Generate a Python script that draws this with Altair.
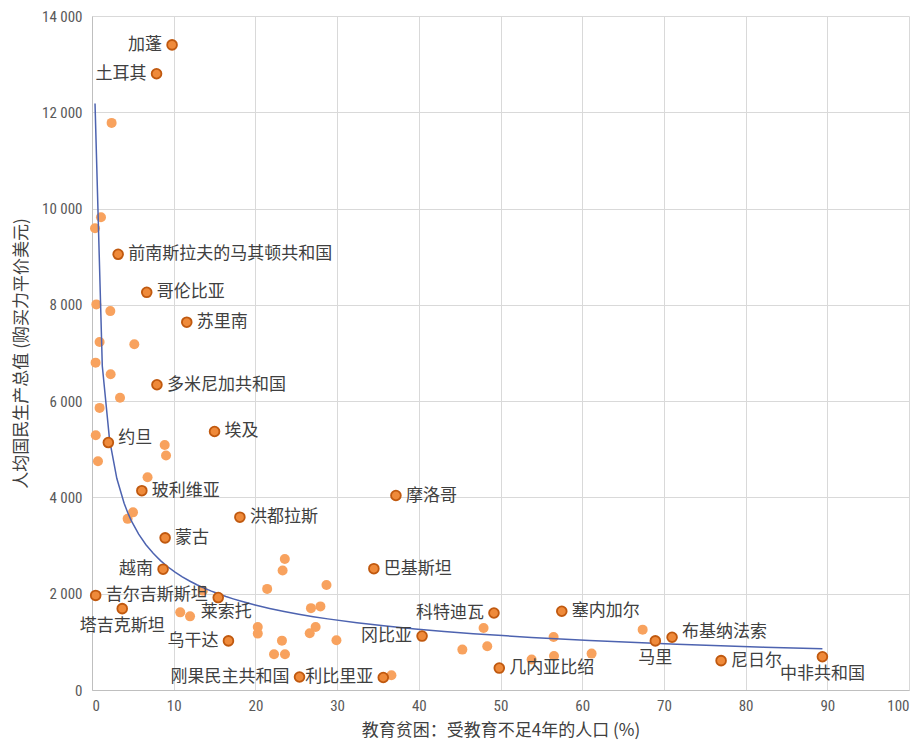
import altair as alt
import pandas as pd

# ---- data ----
labeled_names = [
    "加蓬", "土耳其", "前南斯拉夫的马其顿共和国", "哥伦比亚", "苏里南", "多米尼加共和国",
    "埃及", "约旦", "玻利维亚", "洪都拉斯", "蒙古", "越南", "吉尔吉斯斯坦", "塔吉克斯坦",
    "莱索托", "乌干达", "刚果民主共和国", "利比里亚", "摩洛哥", "巴基斯坦", "科特迪瓦",
    "塞内加尔", "冈比亚", "几内亚比绍", "马里", "布基纳法索", "尼日尔", "中非共和国",
]
labeled_x = [
    9.8, 7.9, 3.2, 6.7, 11.6, 7.95,
    15.0, 2.0, 6.1, 18.1, 8.95, 8.7, 0.45, 3.7,
    15.45, 16.7, 25.4, 35.65, 37.2, 34.5, 49.2,
    57.5, 40.4, 49.85, 68.95, 71.0, 77.0, 89.4,
]
labeled_y = [
    13400, 12800, 9050, 8260, 7640, 6340,
    5370, 5140, 4140, 3590, 3160, 2510, 1965, 1690,
    1920, 1020, 270, 260, 4040, 2520, 1600,
    1635, 1120, 455, 1020, 1095, 610, 690,
]

other_x = [
    2.4, 1.1, 0.37, 0.53, 2.24, 0.93, 5.18, 0.44, 2.28, 3.43, 0.93, 0.46,
    8.9, 9.06, 0.73, 6.8, 5.02, 4.36, 23.6, 23.33, 21.44, 28.7, 13.56, 10.8,
    12.0, 26.8, 27.96, 20.29, 20.29, 27.37, 26.65, 23.25, 29.92, 22.28, 23.62,
    36.65, 47.93, 56.5, 45.33, 48.38, 56.55, 61.15, 53.81, 67.4,
]
other_y = [
    11780, 9820, 9590, 8010, 7870, 7230, 7180, 6800, 6560, 6070, 5860, 5290,
    5090, 4870, 4750, 4420, 3690, 3555, 2720, 2483, 2100, 2180, 2060, 1613,
    1530, 1700, 1737, 1308, 1171, 1308, 1178, 1025, 1032, 742, 742,
    307, 1287, 1101, 839, 908, 707, 756, 632, 1254,
]

x_ticks = list(range(0, 101, 10))
y_ticks = list(range(0, 14001, 2000))

x_title = "教育贫困：受教育不足4年的人口 (%)"
y_title = "人均国民生产总值 (购买力平价美元)"

# ---- label placement (style) ----
label_place = {
    "加蓬": "left", "土耳其": "left", "越南": "left", "乌干达": "left",
    "刚果民主共和国": "left", "利比里亚": "left", "科特迪瓦": "left", "冈比亚": "left",
    "约旦": "right_up", "布基纳法索": "right_up",
    "塔吉克斯坦": "below", "马里": "below", "中非共和国": "below",
    "莱索托": "below_right",
}

df_lab = pd.DataFrame({"name": labeled_names, "x": labeled_x, "y": labeled_y})
df_lab["place"] = [label_place.get(n, "right") for n in labeled_names]
df_oth = pd.DataFrame({"x": other_x, "y": other_y})
df_all = pd.concat([df_oth, df_lab[["x", "y"]]], ignore_index=True)

W, H = 817, 674
AXIS_FONT = "Liberation Sans Narrow, Roboto Condensed, Roboto, sans-serif"
CJK_FONT = "Noto Sans CJK SC"

xs = alt.Scale(domain=[0, 100], nice=False)
ys = alt.Scale(domain=[0, 14000], nice=False)

x_axis = alt.Axis(
    values=x_ticks, title=x_title, grid=True, ticks=False,
    labelFont=AXIS_FONT, labelFontSize=15, labelColor="#595959", labelPadding=8,
    titleFont=CJK_FONT, titleFontSize=17, titleColor="#404040", titleFontWeight="normal",
    titleX=W / 2, titleY=40, titleBaseline="middle", titleAlign="center",
)
y_axis = alt.Axis(
    values=y_ticks, title=y_title, grid=True, ticks=False,
    labelExpr="replace(format(datum.value, ','), ',', ' ')",
    labelFont=AXIS_FONT, labelFontSize=15, labelColor="#595959", labelPadding=10,
    titleFont=CJK_FONT, titleFontSize=17, titleColor="#404040", titleFontWeight="normal",
    titleX=-71, titleY=H / 2, titleAngle=270, titleBaseline="middle", titleAlign="center",
)

base_o = alt.Chart(df_oth)
others = base_o.mark_circle(size=100, opacity=1, color="#F8A25E").encode(
    x=alt.X("x:Q", scale=xs, axis=x_axis),
    y=alt.Y("y:Q", scale=ys, axis=y_axis),
)

trend = alt.Chart(df_all).transform_regression("x", "y", method="pow").mark_line(
    color="#4D63B0", strokeWidth=1.5
).encode(x=alt.X("x:Q", scale=xs), y=alt.Y("y:Q", scale=ys))

base_l = alt.Chart(df_lab)
labeled = base_l.mark_point(
    shape="circle", size=95, filled=True, fill="#EF8A3A", stroke="#C0590F",
    strokeWidth=1.8, opacity=1
).encode(x=alt.X("x:Q", scale=xs), y=alt.Y("y:Q", scale=ys))


def labels(place, align, dx, dy):
    return base_l.transform_filter(alt.datum.place == place).mark_text(
        align=align, baseline="middle", dx=dx, dy=dy,
        font=CJK_FONT, fontSize=17, color="#404040",
    ).encode(x=alt.X("x:Q", scale=xs), y=alt.Y("y:Q", scale=ys), text="name:N")


chart = alt.layer(
    others, trend, labeled,
    labels("right", "left", 10, 0),
    labels("right_up", "left", 10, -5),
    labels("left", "right", -10, 0),
    labels("below", "center", 0, 17),
    labels("below_right", "center", 8, 14),
).properties(
    width=W, height=H,
    autosize=alt.AutoSizeParams(type="none"),
    padding={"left": 84, "top": 8, "right": 6, "bottom": 51},
).configure_view(strokeWidth=0).configure_axis(
    gridColor="#d9d9d9", gridWidth=1, domainColor="#bfbfbf", domainWidth=1
)

chart.save("out.html", embed_options={"renderer": "svg", "actions": False})
